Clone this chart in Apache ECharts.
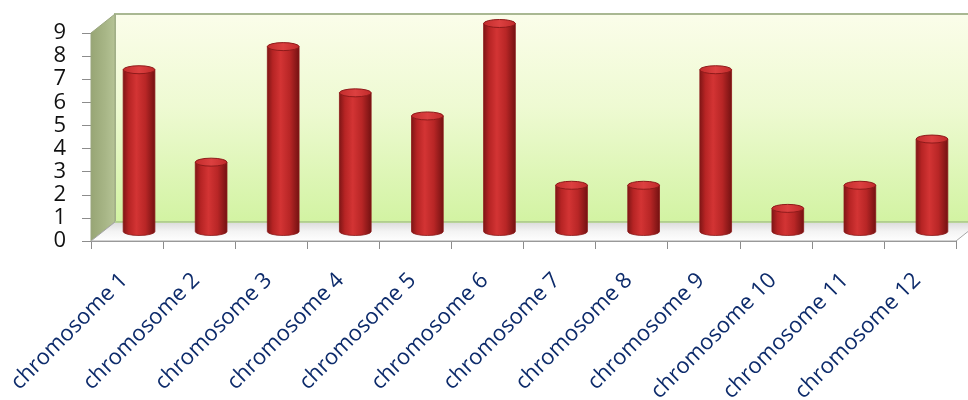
<!DOCTYPE html>
<html>
<head>
<meta charset="utf-8">
<style>
  html, body { margin: 0; padding: 0; background: #ffffff; }
  #chart { width: 968px; height: 400px; }
</style>
<script src="https://cdn.jsdelivr.net/npm/echarts@6/dist/echarts.min.js"></script>
</head>
<body>
<div id="chart"></div>
<script>
// Counts per chromosome
const categories = [
  'chromosome 1', 'chromosome 2', 'chromosome 3', 'chromosome 4',
  'chromosome 5', 'chromosome 6', 'chromosome 7', 'chromosome 8',
  'chromosome 9', 'chromosome 10', 'chromosome 11', 'chromosome 12'
];
const counts = [7, 3, 8, 6, 5, 9, 2, 2, 7, 1, 2, 4];
const yTicks = [0, 1, 2, 3, 4, 5, 6, 7, 8, 9];

// 3D depth of the plot box (pixels): back plane is shifted right and up
const DEPTH_X = 24;
const DEPTH_Y = -19;

const chart = echarts.init(document.getElementById('chart'), null, { renderer: 'canvas' });

function renderWalls(params, api) {
  const cs = params.coordSys;
  const x0 = cs.x, x1 = cs.x + cs.width;
  const yT = cs.y, yB = cs.y + cs.height;
  const G = echarts.graphic;
  return {
    type: 'group',
    children: [
      {
        // back wall
        type: 'rect',
        shape: { x: x0 + DEPTH_X, y: yT + DEPTH_Y, width: cs.width, height: cs.height },
        style: {
          fill: new G.LinearGradient(0, 0, 0, 1, [
            { offset: 0, color: '#fbfdea' },
            { offset: 0.45, color: '#eefad2' },
            { offset: 1, color: '#d2f3a2' }
          ]),
          stroke: '#a9b892',
          lineWidth: 2
        }
      },
      {
        // left side wall
        type: 'polygon',
        shape: { points: [[x0, yT], [x0 + DEPTH_X, yT + DEPTH_Y], [x0 + DEPTH_X, yB + DEPTH_Y], [x0, yB]] },
        style: {
          fill: new G.LinearGradient(0, 0, 1, 0, [
            { offset: 0, color: '#97a574' },
            { offset: 0.6, color: '#a8b687' },
            { offset: 1, color: '#b6c496' }
          ]),
          stroke: '#9aa67f',
          lineWidth: 1
        }
      },
      {
        // floor
        type: 'polygon',
        shape: { points: [[x0, yB], [x0 + DEPTH_X, yB + DEPTH_Y], [x1 + DEPTH_X, yB + DEPTH_Y], [x1, yB]] },
        style: {
          fill: new G.LinearGradient(0, 0, 0, 1, [
            { offset: 0, color: '#d9d9d9' },
            { offset: 0.5, color: '#f4f4f4' },
            { offset: 1, color: '#ffffff' }
          ]),
          stroke: '#a6a6a6',
          lineWidth: 1
        }
      },
      {
        // green seam where the back wall meets the floor
        type: 'line',
        shape: { x1: x0 + DEPTH_X, y1: yB + DEPTH_Y, x2: x1 + DEPTH_X, y2: yB + DEPTH_Y },
        style: { stroke: '#b5d88a', lineWidth: 1.5 }
      }
    ]
  };
}

function renderCylinder(params, api) {
  const i = api.value(0);
  const v = api.value(1);
  const base = api.coord([i, 0]);
  const top = api.coord([i, v]);
  const band = api.size([1, 0])[0];
  const cx = base[0] + DEPTH_X * 0.5;
  const by = base[1] + DEPTH_Y * 0.5;
  const ty = top[1] + DEPTH_Y * 0.5;
  const rx = band * 0.22;
  const ry = 4;
  const l = cx - rx, r = cx + rx;
  const G = echarts.graphic;
  const body = 'M' + l + ' ' + ty + ' L' + l + ' ' + by +
    ' A' + rx + ' ' + ry + ' 0 0 0 ' + r + ' ' + by +
    ' L' + r + ' ' + ty + ' Z';
  const cap = 'M' + l + ' ' + ty +
    ' A' + rx + ' ' + ry + ' 0 0 1 ' + r + ' ' + ty +
    ' A' + rx + ' ' + ry + ' 0 0 1 ' + l + ' ' + ty + ' Z';
  return {
    type: 'group',
    children: [
      {
        type: 'path',
        shape: { pathData: body },
        style: {
          fill: new G.LinearGradient(0, 0, 1, 0, [
            { offset: 0, color: '#7c1515' },
            { offset: 0.18, color: '#b62424' },
            { offset: 0.42, color: '#d33434' },
            { offset: 0.7, color: '#b82626' },
            { offset: 1, color: '#721111' }
          ]),
          stroke: '#8a1818',
          lineWidth: 0.8
        }
      },
      {
        type: 'path',
        shape: { pathData: cap },
        style: {
          fill: new G.LinearGradient(0, 0, 1, 0, [
            { offset: 0, color: '#c22c2c' },
            { offset: 0.5, color: '#dc4040' },
            { offset: 1, color: '#c02a2a' }
          ]),
          stroke: '#8e1a1a',
          lineWidth: 1
        }
      }
    ]
  };
}

chart.setOption({
  animation: false,
  backgroundColor: '#ffffff',
  grid: { left: 91, right: 12, top: 33, bottom: 159, containLabel: false, outerBoundsMode: 'none' },
  xAxis: {
    type: 'category',
    data: categories,
    boundaryGap: true,
    axisLine: { show: true, lineStyle: { color: '#8c8c8c', width: 1 } },
    axisTick: { show: true, length: 8, lineStyle: { color: '#8c8c8c' } },
    axisLabel: {
      interval: 0,
      rotate: 45,
      margin: 33,
      padding: [0, 4, 0, 0],
      color: '#0d2b6b',
      fontFamily: 'Open Sans',
      fontSize: 22
    },
    splitLine: { show: false }
  },
  yAxis: {
    type: 'value',
    min: yTicks[0],
    max: yTicks[yTicks.length - 1],
    interval: 1,
    axisLine: { show: true, lineStyle: { color: '#8c8c8c', width: 1 } },
    axisTick: { show: true, length: 9, lineStyle: { color: '#8c8c8c' } },
    axisLabel: {
      margin: 25,
      color: '#111111',
      fontFamily: 'Open Sans',
      fontSize: 22,
      formatter: function (val) { return yTicks.indexOf(val) >= 0 ? String(val) : ''; }
    },
    splitLine: { show: false }
  },
  series: [
    {
      type: 'custom',
      z: 1,
      silent: true,
      renderItem: renderWalls,
      data: [[0, 0]]
    },
    {
      type: 'custom',
      z: 3,
      renderItem: renderCylinder,
      encode: { x: 0, y: 1 },
      data: counts.map(function (v, i) { return [i, v]; })
    }
  ]
});
</script>
</body>
</html>
